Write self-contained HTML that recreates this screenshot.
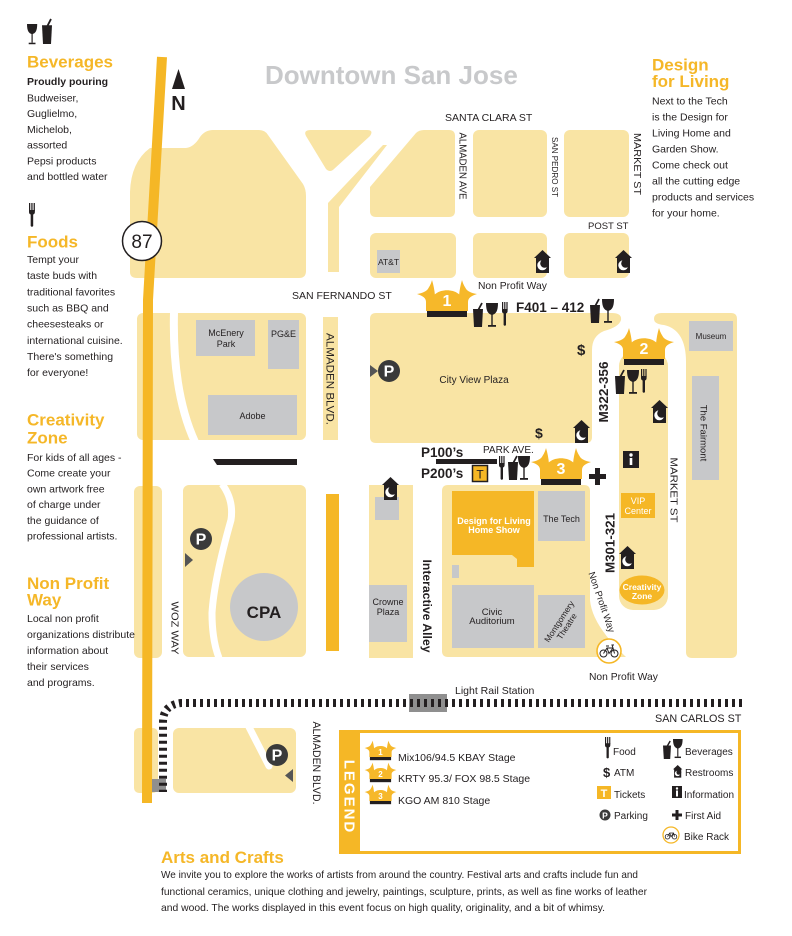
<!DOCTYPE html>
<html><head><meta charset="utf-8">
<style>
html,body{margin:0;padding:0;background:#fff;}
svg{display:block;}
text{font-family:"Liberation Sans",Arial,sans-serif;fill:#231F20;}
.h{font-weight:bold;fill:#F5B728;font-size:17px;}
.t{font-size:10.5px;}
.s{font-size:10.5px;}
.w{fill:#fff;}
</style></head><body>
<svg width="792" height="936" viewBox="0 0 792 936" xmlns="http://www.w3.org/2000/svg">
<defs>
 <g id="cup"><path d="M0,6 L10,6 L9,24 L1,24 Z" fill="#231F20"/><path d="M5.5,6.5 L9,0" stroke="#231F20" stroke-width="1.8"/></g>
 <g id="glass"><path d="M0,0 L12,0 C12,8 10,11 6,12 C2,11 0,8 0,0 Z" fill="#231F20"/><rect x="5.3" y="11" width="1.4" height="11" fill="#231F20"/><rect x="2" y="22" width="8" height="1.8" fill="#231F20"/></g>
 <g id="fork" fill="#231F20"><rect x="0" y="0" width="1.2" height="8"/><rect x="2.2" y="0" width="1.2" height="8"/><rect x="4.4" y="0" width="1.2" height="8"/><path d="M0,7 L5.6,7 L5.6,9 Q5.6,11 4,11.5 L4,23 Q2.8,24.5 1.6,23 L1.6,11.5 Q0,11 0,9 Z"/></g>
 <g id="rest"><path d="M8.5,0 L17,8 L15,8 L15,23 L2,23 L2,8 L0,8 Z" fill="#231F20"/><circle cx="8.3" cy="15.3" r="5" fill="#fff"/><circle cx="10.6" cy="13.4" r="4.4" fill="#231F20"/></g>
 <g id="park"><circle r="11" fill="#3a3a3a"/><text y="5.5" text-anchor="middle" font-size="16" font-weight="bold" class="w">P</text></g>
 <path id="horn" d="M-21,0 L-21,-9 C-21,-13 -24,-15 -30,-17 C-24,-18 -20,-20 -18.5,-23 C-16.5,-26 -15.5,-29 -15,-31 C-13.5,-26 -12.5,-21 -12,-15 L-12,0 Z" fill="#F6B82A"/>
 <g id="stage">
  <use href="#horn"/>
  <use href="#horn" transform="scale(-1,1)"/>
  <path d="M-16,0 L-16,-8 C-16,-25 16,-25 16,-8 L16,0 Z" fill="#F6B82A"/>
  <rect x="-20" y="0" width="40" height="6" fill="#231F20"/>
 </g>
</defs>

<!-- ===== BLOCKS ===== -->
<g fill="#F9E4A4">
 <path d="M130,272 L130,192 Q131,162 150,148 L186,148 Q194,147 200,137 Q205,130 213,130 L259,130 Q265,130 268,135 L303,184 Q306,189 306,196 L306,271 Q306,278 299,278 L137,278 Q130,278 130,272 Z"/>
 <path d="M311,130 L367,130 Q374,130 370,136 L334,169 Q330,173 326,169 L306,136 Q303,130 311,130 Z"/>
 <path d="M328,272 L328,203 L383,145 L387,145 L339,207 L339,272 Z"/>
 <path d="M370,187 L416,133 Q419,130 424,130 L449,130 Q455,130 455,136 L455,211 Q455,217 449,217 L376,217 Q370,217 370,211 Z"/>
 <rect x="473" y="130" width="74" height="87" rx="6"/>
 <rect x="564" y="130" width="65" height="87" rx="6"/>
 <rect x="370" y="233" width="86" height="45" rx="6"/>
 <rect x="473" y="233" width="74" height="45" rx="6"/>
 <rect x="564" y="233" width="65" height="45" rx="6"/>
 <rect x="137" y="313" width="169" height="127" rx="6"/>
 <rect x="323" y="317" width="15" height="123"/>
 <path d="M376,313 L612,313 Q622,313 621,320 Q619,327 604,331 Q592,336 592,350 L592,437 Q592,443 586,443 L376,443 Q370,443 370,437 L370,319 Q370,313 376,313 Z"/>
 <path d="M662,313 L731,313 Q737,313 737,319 L737,652 Q737,658 731,658 L692,658 Q686,658 686,652 L686,362 Q686,330 664,325 Q654,324 654,319 Q654,313 662,313 Z"/>
 <rect x="619" y="352" width="49" height="258" rx="14"/>
 <rect x="134" y="486" width="28" height="172" rx="6"/>
 <rect x="183" y="485" width="123" height="172" rx="6"/>
 <rect x="369" y="485" width="44" height="173"/>
 <path d="M448,485 L584,485 Q590,485 590,491 L590,600 Q592,625 626,657 L448,657 Q442,657 442,651 L442,491 Q442,485 448,485 Z"/>
 <rect x="134" y="728" width="24" height="65" rx="5"/>
 <rect x="173" y="728" width="123" height="65" rx="6"/>
</g>

<!-- white roads inside blocks -->
<g fill="none" stroke="#fff">
 <path d="M174,312 Q172,392 195,442" stroke-width="8"/>
 <path d="M222,484 Q234,500 231,520 Q214,580 212,613 Q212,640 219,658" stroke-width="7"/>
 <path d="M249,727 L269,766" stroke-width="7" stroke-linecap="round"/>
</g>

<!-- grey buildings -->
<g fill="#C7C8CA">
 <rect x="377" y="250" width="23" height="23"/>
 <rect x="196" y="320" width="59" height="36"/>
 <rect x="268" y="320" width="31" height="49"/>
 <rect x="208" y="395" width="89" height="40"/>
 <rect x="689" y="321" width="44" height="30"/>
 <rect x="692" y="376" width="27" height="104"/>
 <circle cx="264" cy="607" r="34"/>
 <rect x="375" y="497" width="24" height="23"/>
 <rect x="369" y="585" width="38" height="57"/>
 <rect x="538" y="491" width="47" height="50"/>
 <rect x="452" y="565" width="7" height="13"/>
 <rect x="452" y="585" width="82" height="63"/>
 <rect x="538" y="595" width="47" height="53"/>
</g>

<!-- orange features -->
<g fill="#F5B726">
 <path d="M452,491 L534,491 L534,567 L517,567 L517,559 L512,555 L452,555 Z"/>
 <rect x="621" y="493" width="34" height="25"/>
 <ellipse cx="642" cy="590" rx="22.5" ry="14.5"/>
 <rect x="326" y="494" width="13" height="157"/>
</g>

<!-- highway 87 -->
<polyline points="162,57 148,300 147,803" fill="none" stroke="#F5B726" stroke-width="10" stroke-linejoin="round"/>

<!-- rail -->
<rect x="409" y="694" width="38" height="18" fill="#8F8F8F"/>
<rect x="152" y="779" width="14" height="13" fill="#8F8F8F"/>
<path d="M742,703 L181,703 Q163,705 163,722 L163,792" fill="none" stroke="#231F20" stroke-width="8" stroke-dasharray="3 4"/>

<!-- black bars -->
<path d="M213,459 L297,459 L297,465 L217,465 Z" fill="#231F20"/>
<rect x="436" y="459" width="61" height="5" fill="#231F20"/>

<!-- 87 shield -->
<circle cx="142" cy="241" r="19.5" fill="#fff" stroke="#231F20" stroke-width="1.5"/>
<text x="142" y="248" text-anchor="middle" font-size="19">87</text>

<!-- north arrow -->
<path d="M178.5,69 L185,89 L172,89 Z" fill="#231F20"/>
<text x="178.5" y="110" text-anchor="middle" font-size="20" font-weight="bold">N</text>

<!-- Title -->
<text x="265" y="84" font-size="26" font-weight="bold" style="fill:#C8C9CB">Downtown San Jose</text>

<!-- ===== LEFT SIDEBAR ===== -->
<use href="#glass" transform="translate(27,24) scale(0.85,0.85)"/>
<use href="#cup" transform="translate(42,19) scale(1,1.04)"/>
<text x="27" y="67.5" class="h">Beverages</text>
<text x="27" y="85" class="t" font-weight="bold">Proudly pouring</text>
<text x="27" y="101.5" class="t">Budweiser,</text>
<text x="27" y="117.2" class="t">Guglielmo,</text>
<text x="27" y="132.9" class="t">Michelob,</text>
<text x="27" y="148.6" class="t">assorted</text>
<text x="27" y="164.3" class="t">Pepsi products</text>
<text x="27" y="180" class="t">and bottled water</text>

<use href="#fork" transform="translate(29,203) scale(1.05,1)"/>
<text x="27" y="247.5" class="h">Foods</text>
<text x="27" y="263" class="t">Tempt your</text>
<text x="27" y="279.2" class="t">taste buds with</text>
<text x="27" y="295.3" class="t">traditional favorites</text>
<text x="27" y="311.5" class="t">such as BBQ and</text>
<text x="27" y="327.7" class="t">cheesesteaks or</text>
<text x="27" y="343.8" class="t">international cuisine.</text>
<text x="27" y="360" class="t">There's something</text>
<text x="27" y="376.2" class="t">for everyone!</text>

<text x="27" y="425.5" class="h">Creativity</text>
<text x="27" y="443.5" class="h">Zone</text>
<text x="27" y="461" class="t">For kids of all ages -</text>
<text x="27" y="476.7" class="t">Come create your</text>
<text x="27" y="492.4" class="t">own artwork free</text>
<text x="27" y="508.1" class="t">of charge under</text>
<text x="27" y="523.8" class="t">the guidance of</text>
<text x="27" y="539.5" class="t">professional artists.</text>

<text x="27" y="589" class="h">Non Profit</text>
<text x="27" y="605.5" class="h">Way</text>
<text x="27" y="622" class="t">Local non profit</text>
<text x="27" y="638" class="t">organizations distribute</text>
<text x="27" y="654" class="t">information about</text>
<text x="27" y="670" class="t">their services</text>
<text x="27" y="686" class="t">and programs.</text>

<!-- ===== RIGHT SIDEBAR ===== -->
<text x="652" y="70.5" class="h">Design</text>
<text x="652" y="87" class="h">for Living</text>
<text x="652" y="104.5" class="t">Next to the Tech</text>
<text x="652" y="120.5" class="t">is the Design for</text>
<text x="652" y="136.5" class="t">Living Home and</text>
<text x="652" y="152.5" class="t">Garden Show.</text>
<text x="652" y="168.5" class="t">Come check out</text>
<text x="652" y="184.5" class="t">all the cutting edge</text>
<text x="652" y="200.5" class="t">products and services</text>
<text x="652" y="216.5" class="t">for your home.</text>

<!-- ===== STREET LABELS ===== -->
<text x="445" y="121" class="s">SANTA CLARA ST</text>
<text x="292" y="299" class="s">SAN FERNANDO ST</text>
<text x="588" y="229" font-size="9.5">POST ST</text>
<text x="478" y="289" font-size="10.3">Non Profit Way</text>
<text x="483" y="453" font-size="10">PARK AVE.</text>
<text x="455" y="694" class="s">Light Rail Station</text>
<text x="589" y="680" font-size="10.3">Non Profit Way</text>
<text x="655" y="722" font-size="10.8">SAN CARLOS ST</text>

<text transform="translate(459.5,166) rotate(90)" text-anchor="middle" font-size="10" textLength="67" lengthAdjust="spacingAndGlyphs">ALMADEN AVE</text>
<text transform="translate(552,167) rotate(90)" text-anchor="middle" font-size="8.5" textLength="60" lengthAdjust="spacingAndGlyphs">SAN PEDRO ST</text>
<text transform="translate(633.8,164) rotate(90)" text-anchor="middle" font-size="10.5" textLength="62" lengthAdjust="spacingAndGlyphs">MARKET ST</text>
<text transform="translate(326.6,379) rotate(90)" text-anchor="middle" font-size="11" textLength="92" lengthAdjust="spacingAndGlyphs">ALMADEN BLVD.</text>
<text transform="translate(700.3,433) rotate(90)" text-anchor="middle" font-size="9.5">The Fairmont</text>
<text transform="translate(670.3,490) rotate(90)" text-anchor="middle" font-size="10.5" textLength="65" lengthAdjust="spacingAndGlyphs">MARKET ST</text>
<text transform="translate(171.3,628) rotate(90)" text-anchor="middle" font-size="10.5" textLength="53" lengthAdjust="spacingAndGlyphs">WOZ WAY</text>
<text transform="translate(423.2,606) rotate(90)" text-anchor="middle" font-size="12" font-weight="bold" textLength="93" lengthAdjust="spacingAndGlyphs">Interactive Alley</text>
<text transform="translate(312.8,763) rotate(90)" text-anchor="middle" font-size="11" textLength="83" lengthAdjust="spacingAndGlyphs">ALMADEN BLVD.</text>
<text transform="translate(608,392) rotate(-90)" text-anchor="middle" font-size="13" font-weight="bold" textLength="61" lengthAdjust="spacingAndGlyphs">M322-356</text>
<text transform="translate(614.7,543) rotate(-90)" text-anchor="middle" font-size="13" font-weight="bold" textLength="60" lengthAdjust="spacingAndGlyphs">M301-321</text>
<text transform="translate(602,602) rotate(71)" text-anchor="middle" y="3.5" font-size="9.5">Non Profit Way</text>

<!-- ===== BUILDING LABELS ===== -->
<text x="388.5" y="265" text-anchor="middle" font-size="8.5">AT&amp;T</text>
<text x="226" y="336" text-anchor="middle" font-size="9">McEnery</text>
<text x="226" y="347" text-anchor="middle" font-size="9">Park</text>
<text x="283.5" y="337" text-anchor="middle" font-size="9">PG&amp;E</text>
<text x="252.5" y="419" text-anchor="middle" font-size="9">Adobe</text>
<text x="711" y="339" text-anchor="middle" font-size="8">Museum</text>
<text x="474" y="383" text-anchor="middle" font-size="10">City View Plaza</text>
<text x="264" y="618" text-anchor="middle" font-size="17" font-weight="bold">CPA</text>
<text x="388" y="605" text-anchor="middle" font-size="9">Crowne</text>
<text x="388" y="615" text-anchor="middle" font-size="9">Plaza</text>
<text x="494" y="524" text-anchor="middle" font-size="9" font-weight="bold" class="w">Design for Living</text>
<text x="494" y="533" text-anchor="middle" font-size="9" font-weight="bold" class="w">Home Show</text>
<text x="561.5" y="522" text-anchor="middle" font-size="9">The Tech</text>
<text x="492" y="615" text-anchor="middle" font-size="9.5">Civic</text>
<text x="492" y="624" text-anchor="middle" font-size="9.5">Auditorium</text>
<g transform="translate(560,622) rotate(-57)">
 <text y="2" text-anchor="middle" font-size="8.5">Montgomery</text>
 <text y="11" text-anchor="middle" font-size="8.5">Theatre</text>
</g>
<text x="638" y="504" text-anchor="middle" font-size="9" class="w">VIP</text>
<text x="638" y="514" text-anchor="middle" font-size="9" class="w">Center</text>
<text x="642" y="590" text-anchor="middle" font-size="8.5" font-weight="bold" class="w">Creativity</text>
<text x="642" y="599" text-anchor="middle" font-size="8.5" font-weight="bold" class="w">Zone</text>

<!-- ===== MAP ICONS ===== -->
<use href="#stage" transform="translate(447,311)"/>
<text x="447" y="306" text-anchor="middle" font-size="16" font-weight="bold" class="w">1</text>
<use href="#stage" transform="translate(644,359)"/>
<text x="644" y="354" text-anchor="middle" font-size="16" font-weight="bold" class="w">2</text>
<use href="#stage" transform="translate(561,479)"/>
<text x="561" y="474" text-anchor="middle" font-size="16" font-weight="bold" class="w">3</text>

<use href="#cup" transform="translate(473,303)"/>
<use href="#glass" transform="translate(486,303)"/>
<use href="#fork" transform="translate(502,302)"/>
<text x="516" y="312" font-size="13.5" font-weight="bold">F401 – 412</text>
<use href="#cup" transform="translate(590,299)"/>
<use href="#glass" transform="translate(602,299)"/>

<use href="#cup" transform="translate(615,370)"/>
<use href="#glass" transform="translate(627,370)"/>
<use href="#fork" transform="translate(641,369)"/>

<use href="#fork" transform="translate(499,456)"/>
<use href="#cup" transform="translate(508,456)"/>
<use href="#glass" transform="translate(518,456)"/>

<text x="421" y="457" font-size="13.5" font-weight="bold">P100’s</text>
<text x="421" y="478" font-size="13.5" font-weight="bold">P200’s</text>
<rect x="472.5" y="465.5" width="15" height="16" fill="#F5B726" stroke="#231F20" stroke-width="1.5"/>
<text x="480" y="478.5" text-anchor="middle" font-size="12">T</text>

<text x="577" y="355" font-size="15" font-weight="bold">$</text>
<text x="535" y="438" font-size="14" font-weight="bold">$</text>

<use href="#rest" transform="translate(534,250)"/>
<use href="#rest" transform="translate(615,250)"/>
<use href="#rest" transform="translate(573,420)"/>
<use href="#rest" transform="translate(651,400)"/>
<use href="#rest" transform="translate(382,477)"/>
<use href="#rest" transform="translate(619,546)"/>

<rect x="623" y="451" width="16" height="17" fill="#231F20"/>
<circle cx="631" cy="455" r="1.7" fill="#fff"/>
<rect x="629.7" y="458" width="2.6" height="7" fill="#fff"/>

<path d="M595,468 h5 v6 h6 v5 h-6 v6 h-5 v-6 h-6 v-5 h6 Z" fill="#231F20"/>

<use href="#park" transform="translate(389,371)"/>
<path d="M370,365 L378,371 L370,377 Z" fill="#555"/>
<use href="#park" transform="translate(201,539)"/>
<path d="M185,553 L193,560 L185,567 Z" fill="#555"/>
<use href="#park" transform="translate(277,755)"/>
<path d="M293,769 L285,775.5 L293,782 Z" fill="#555"/>

<!-- bike rack on map -->
<g transform="translate(609,651)">
 <circle r="12" fill="#fff" stroke="#F5B726" stroke-width="1.6"/>
 <g fill="none" stroke="#231F20" stroke-width="1">
  <circle cx="-5.5" cy="2.5" r="3.5"/><circle cx="5.5" cy="2.5" r="3.5"/>
  <path d="M-5.5,2.5 L-2,-3 L4,-3 L5.5,2.5 M-2,-3 L0,2.5 L4,-3 M-3,-5 L0,-5 M4,-3 L3,-6 L5,-6"/>
 </g>
</g>

<!-- ===== LEGEND ===== -->
<rect x="340.5" y="731.5" width="399" height="121" fill="#fff" stroke="#F5B726" stroke-width="3"/>
<rect x="339" y="730" width="21" height="124" fill="#F5B726"/>
<text transform="translate(344.3,797) rotate(90)" text-anchor="middle" font-size="15" font-weight="bold" letter-spacing="2" class="w">LEGEND</text>

<use href="#stage" transform="translate(380.5,757) scale(0.53)"/>
<text x="380.5" y="755" text-anchor="middle" font-size="8" font-weight="bold" class="w">1</text>
<use href="#stage" transform="translate(380.5,779) scale(0.53)"/>
<text x="380.5" y="777" text-anchor="middle" font-size="8" font-weight="bold" class="w">2</text>
<use href="#stage" transform="translate(380.5,801) scale(0.53)"/>
<text x="380.5" y="799" text-anchor="middle" font-size="8" font-weight="bold" class="w">3</text>
<text x="398" y="761" class="s">Mix106/94.5 KBAY Stage</text>
<text x="398" y="782" class="s">KRTY 95.3/ FOX 98.5 Stage</text>
<text x="398" y="804" class="s">KGO AM 810 Stage</text>

<use href="#fork" transform="translate(605,737) scale(0.95,0.9)"/>
<text x="613" y="755" font-size="10">Food</text>
<use href="#cup" transform="translate(663,741) scale(0.8,0.75)"/>
<use href="#glass" transform="translate(673,739) scale(0.8,0.8)"/>
<text x="685" y="755" font-size="10">Beverages</text>

<text x="603" y="777" font-size="13" font-weight="bold">$</text>
<text x="614" y="776" font-size="10">ATM</text>
<use href="#rest" transform="translate(673,765) scale(0.55)"/>
<text x="685" y="776" font-size="10">Restrooms</text>

<rect x="597" y="786" width="14" height="13" fill="#F5B726"/>
<text x="604" y="797" text-anchor="middle" font-size="11" font-weight="bold" class="w">T</text>
<text x="614" y="798" font-size="10">Tickets</text>
<rect x="672" y="786" width="10" height="12" fill="#231F20"/>
<circle cx="677" cy="788.5" r="1.2" fill="#fff"/>
<rect x="676" y="790.5" width="2" height="6" fill="#fff"/>
<text x="684" y="798" font-size="10">Information</text>

<circle cx="605" cy="815" r="5.5" fill="#3a3a3a"/>
<text x="605" y="818.5" text-anchor="middle" font-size="8.5" font-weight="bold" class="w">P</text>
<text x="614" y="819" font-size="10">Parking</text>
<path d="M675.5,810 h3 v3.5 h3.5 v3 h-3.5 v3.5 h-3 v-3.5 h-3.5 v-3 h3.5 Z" fill="#231F20"/>
<text x="685" y="819" font-size="10">First Aid</text>

<g transform="translate(671,835)">
 <circle r="8" fill="#fff" stroke="#F5B726" stroke-width="1.3"/>
 <g fill="none" stroke="#231F20" stroke-width="0.8">
  <circle cx="-3.5" cy="1.7" r="2.3"/><circle cx="3.5" cy="1.7" r="2.3"/>
  <path d="M-3.5,1.7 L-1.3,-2 L2.6,-2 L3.5,1.7 M-1.3,-2 L0,1.7 L2.6,-2"/>
 </g>
</g>
<text x="684" y="840" font-size="10">Bike Rack</text>

<!-- ===== ARTS AND CRAFTS ===== -->
<text x="161" y="863" class="h">Arts and Crafts</text>
<text x="161" y="878" font-size="10.3" textLength="477" lengthAdjust="spacingAndGlyphs">We invite you to explore the works of artists from around the country. Festival arts and crafts include fun and</text>
<text x="161" y="895" font-size="10.3" textLength="486" lengthAdjust="spacingAndGlyphs">functional ceramics, unique clothing and jewelry, paintings, sculpture, prints, as well as fine works of leather</text>
<text x="161" y="911" font-size="10.3" textLength="444" lengthAdjust="spacingAndGlyphs">and wood. The works displayed in this event focus on high quality, originality, and a bit of whimsy.</text>
</svg>
</body></html>
